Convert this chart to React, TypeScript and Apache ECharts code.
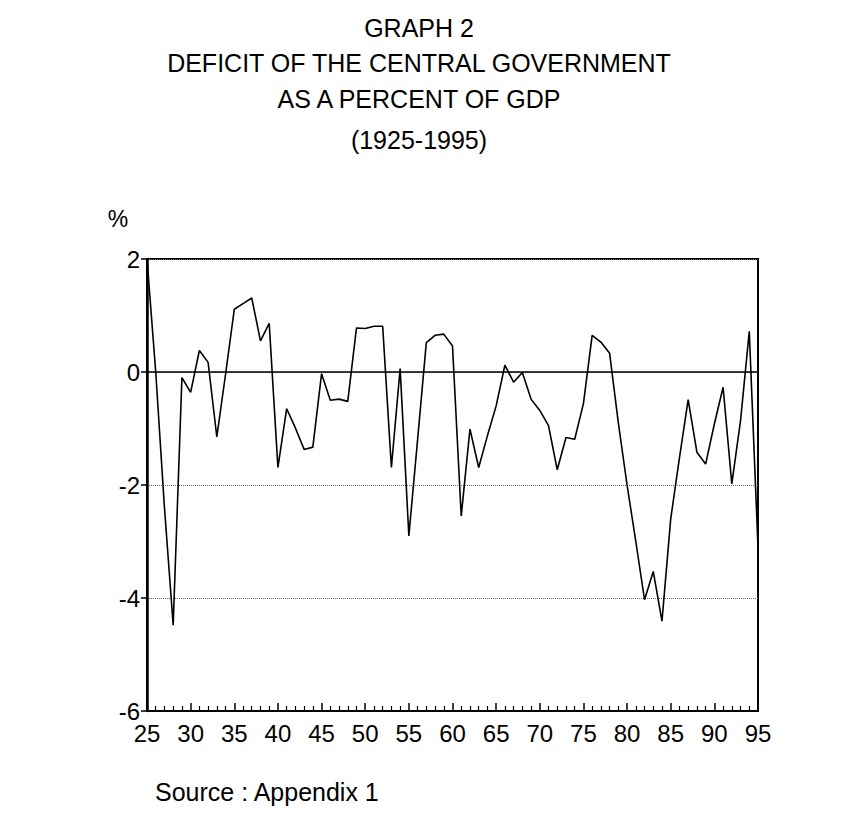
import React, { useEffect, useRef } from "react";
import * as echarts from "echarts";

const startYear = 1925;
const endYear = 1995;
const years: number[] = Array.from({ length: endYear - startYear + 1 }, (_, i) => startYear + i);

// Deficit of the central government, % of GDP, 1925-1995
const deficit: number[] = [
  2.0, 0.0, -2.4, -4.48, -0.1, -0.36, 0.38, 0.17, -1.15, -0.04, // 1925-1934
  1.11, 1.21, 1.31, 0.55, 0.86, -1.69, -0.65, -0.99, -1.37, -1.33, // 1935-1944
  -0.03, -0.5, -0.48, -0.52, 0.78, 0.77, 0.81, 0.81, -1.69, 0.06, // 1945-1954
  -2.9, -1.2, 0.52, 0.65, 0.67, 0.46, -2.55, -1.01, -1.69, -1.13, // 1955-1964
  -0.6, 0.12, -0.18, -0.01, -0.48, -0.68, -0.95, -1.73, -1.16, -1.19, // 1965-1974
  -0.56, 0.65, 0.53, 0.33, -0.9, -2.0, -3.0, -4.03, -3.53, -4.41, // 1975-1984
  -2.6, -1.52, -0.49, -1.42, -1.63, -0.92, -0.27, -1.98, -0.86, 0.72, // 1985-1994
  -3.1, // 1995
];

const titleLines: string[] = [
  "GRAPH 2",
  "DEFICIT OF THE CENTRAL GOVERNMENT",
  "AS A PERCENT OF GDP",
  "(1925-1995)",
];
const yTicks = { min: -6, max: 2, interval: 2 };
const unitLabel = "%";
const sourceText = "Source : Appendix 1";

const FONT = '"Liberation Sans", Arial, sans-serif';

export default function App() {
  const ref = useRef<HTMLDivElement>(null);

  useEffect(() => {
    if (!ref.current) return;
    const chart = echarts.init(ref.current, undefined, { renderer: "svg" });
    const titleY = [28, 63, 99, 140];
    chart.setOption({
      animation: false,
      backgroundColor: "#ffffff",
      grid: {
        left: 147,
        right: 101,
        top: 259,
        bottom: 119,
        show: true,
        borderColor: "#000",
        borderWidth: 2,
        backgroundColor: "transparent",
      },
      xAxis: {
        type: "value",
        min: startYear,
        max: endYear,
        interval: 5,
        axisLine: { show: true, onZero: false, lineStyle: { color: "#000", width: 2 } },
        axisTick: { show: true, inside: true, length: 8, lineStyle: { color: "#000", width: 1.5 } },
        minorTick: { show: true, splitNumber: 5, length: 5, lineStyle: { color: "#000", width: 1.2 } },
        axisLabel: {
          formatter: (v: number) => String(v).slice(2),
          fontSize: 24,
          color: "#000",
          fontFamily: FONT,
          margin: 10,
        },
        splitLine: { show: false },
      },
      yAxis: {
        type: "value",
        min: yTicks.min,
        max: yTicks.max,
        interval: yTicks.interval,
        axisLine: { show: true, onZero: false, lineStyle: { color: "#000", width: 2.5 } },
        axisTick: { show: true, inside: false, length: 6, lineStyle: { color: "#000", width: 1.5 } },
        axisLabel: { fontSize: 24, color: "#000", fontFamily: FONT, margin: 7 },
        splitLine: { show: true, lineStyle: { type: "dotted", color: "#666", width: 1 } },
      },
      series: [
        {
          type: "line",
          data: years.map((y, i) => [y, deficit[i]]),
          showSymbol: false,
          symbol: "none",
          lineStyle: { color: "#000", width: 1.6 },
          markLine: {
            silent: true,
            symbol: "none",
            label: { show: false },
            lineStyle: { color: "#000", type: "solid", width: 1.6 },
            data: [{ yAxis: 0 }],
          },
        },
      ],
      graphic: [
        ...titleLines.map((t, i) => ({
          type: "text",
          x: 419,
          y: titleY[i],
          style: {
            text: t,
            fill: "#000",
            font: `25px ${FONT}`,
            align: "center",
            verticalAlign: "middle",
          },
        })),
        {
          type: "text",
          x: 118,
          y: 219,
          style: { text: unitLabel, fill: "#000", font: `23px ${FONT}`, align: "center", verticalAlign: "middle" },
        },
        {
          type: "text",
          x: 155,
          y: 792,
          style: { text: sourceText, fill: "#000", font: `25px ${FONT}`, align: "left", verticalAlign: "middle" },
        },
      ],
    });
    return () => chart.dispose();
  }, []);

  return (
    <div
      ref={ref}
      style={{ position: "absolute", left: 0, top: 0, width: 859, height: 830, background: "#fff" }}
    />
  );
}
